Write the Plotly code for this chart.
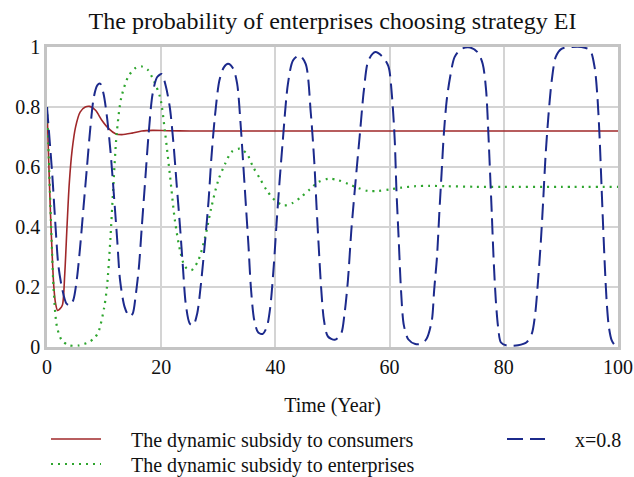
import plotly.graph_objects as go

# ---- data ----
t_cons = [0, 0.3, 0.6, 0.9, 1.2, 1.5, 1.85, 2.3, 2.7, 3.1, 3.5, 3.9, 4.4, 5.0, 5.8, 6.7, 7.5,
          8.5, 9.6, 10.8, 12.0, 13.1, 14.9, 16.6, 18.5, 21, 25, 30, 40, 60, 80, 100]
v_cons = [0.80, 0.62, 0.45, 0.31, 0.20, 0.145, 0.122, 0.128, 0.14, 0.24, 0.40, 0.545, 0.656,
          0.733, 0.783, 0.80, 0.802, 0.789, 0.756, 0.728, 0.711, 0.708, 0.713, 0.72, 0.722,
          0.721, 0.72, 0.72, 0.72, 0.72, 0.72, 0.72]

t_ent = [0, 0.4, 0.8, 1.2, 1.75, 2.6, 3.8, 5.5, 7.3, 8.3, 9.0, 10.0, 10.5, 11.1, 11.6, 12.2,
         13.0, 14.2, 15.5, 16.6, 17.6, 18.4, 19.8, 20.7, 21.5, 22.4, 23.3, 24.2, 25.3, 26.5,
         27.7, 28.8, 30.0, 31.2, 32.3, 33.8, 35.0, 36.1, 37.3, 38.5, 39.9, 41.5, 43.0, 44.5,
         46.0, 47.5, 49.3, 51.0, 52.7, 54.5, 56.2, 58.0, 60.0, 62.0, 64.5, 67.0, 70.0, 75.0,
         80.0, 90.0, 100.0]
v_ent = [0.80, 0.58, 0.36, 0.18, 0.067, 0.022, 0.006, 0.005, 0.016, 0.03, 0.05, 0.13, 0.20,
         0.36, 0.53, 0.71, 0.83, 0.90, 0.93, 0.935, 0.925, 0.90, 0.833, 0.711, 0.578, 0.422,
         0.322, 0.267, 0.256, 0.289, 0.367, 0.467, 0.556, 0.611, 0.65, 0.661, 0.644, 0.60,
         0.561, 0.522, 0.489, 0.472, 0.48, 0.50, 0.525, 0.55, 0.561, 0.556, 0.544, 0.53, 0.52,
         0.52, 0.525, 0.531, 0.536, 0.537, 0.536, 0.534, 0.534, 0.534, 0.534]

t_x08 = [0, 0.9, 1.5, 2.0, 2.7, 3.4, 4.0, 4.6, 5.2, 5.8, 6.4, 7.0, 7.6, 8.2, 8.8, 9.3, 9.9,
         10.5, 11.1, 11.7, 12.3, 12.8, 13.6, 14.4, 15.0, 15.5, 16.1, 16.6, 17.2, 17.8, 18.5,
         19.3, 20.1, 20.8, 21.5, 22.1, 22.7, 23.3, 23.8, 24.3, 25.0, 25.6, 26.3, 26.9, 27.7,
         28.3, 28.8, 29.4, 30.2, 31.0, 31.7, 32.6, 33.3, 33.9, 34.4, 34.85, 35.3, 35.7, 36.3,
         37.0, 37.8, 38.5, 39.1, 39.7, 40.2, 40.7, 41.3, 42.2, 43.1, 44.2, 45.3, 46.2, 46.8,
         47.2, 47.6, 48.0, 48.5, 49.2, 50.4, 51.5, 52.1, 52.7, 53.3, 54.0, 54.8, 55.5, 56.3,
         57.5, 58.8, 59.8, 60.4, 60.9, 61.2, 61.6, 62.0, 62.5, 63.3, 64.5, 65.6, 66.5, 67.4,
         67.8, 68.3, 68.7, 69.1, 69.5, 70.0, 70.6, 71.4, 72.6, 74.1, 75.4, 76.3, 76.9, 77.3,
         77.6, 77.9, 78.2, 78.6, 79.0, 79.5, 80.5, 82.5, 84.0, 84.9, 85.5, 86.0, 86.5, 86.9,
         87.3, 87.8, 88.4, 89.1, 90.1, 91.9, 93.6, 95.1, 95.9, 96.4, 96.8, 97.1, 97.4, 97.7,
         98.0, 98.4, 98.9, 99.5, 100.0]
v_x08 = [0.80, 0.58, 0.40, 0.27, 0.19, 0.145, 0.138, 0.156, 0.222, 0.333, 0.467, 0.60, 0.733,
         0.833, 0.872, 0.878, 0.844, 0.767, 0.656, 0.511, 0.356, 0.222, 0.133, 0.102, 0.111,
         0.167, 0.267, 0.40, 0.556, 0.711, 0.844, 0.90, 0.91, 0.87, 0.80, 0.689, 0.544, 0.40,
         0.267, 0.144, 0.078, 0.072, 0.111, 0.20, 0.356, 0.489, 0.633, 0.767, 0.889, 0.933,
         0.944, 0.928, 0.878, 0.744, 0.60, 0.467, 0.333, 0.20, 0.089, 0.048, 0.044, 0.067,
         0.133, 0.267, 0.411, 0.544, 0.689, 0.878, 0.956, 0.972, 0.944, 0.78, 0.62, 0.47,
         0.33, 0.20, 0.09, 0.035, 0.024, 0.044, 0.11, 0.222, 0.389, 0.544, 0.711, 0.856,
         0.956, 0.983, 0.967, 0.935, 0.84, 0.689, 0.522, 0.356, 0.189, 0.072, 0.025, 0.01,
         0.011, 0.028, 0.089, 0.189, 0.30, 0.444, 0.578, 0.711, 0.822, 0.90, 0.967, 0.994,
         0.998, 0.983, 0.944, 0.856, 0.711, 0.578, 0.444, 0.30, 0.156, 0.067, 0.015, 0.005,
         0.006, 0.016, 0.044, 0.111, 0.222, 0.356, 0.489, 0.633, 0.767, 0.889, 0.967, 0.994,
         1.0, 1.0, 0.989, 0.933, 0.833, 0.689, 0.544, 0.40, 0.267, 0.156, 0.067, 0.022, 0.005,
         0.002]

names = ["The dynamic subsidy to consumers", "The dynamic subsidy to enterprises", "x=0.8"]
x_ticks = [0, 20, 40, 60, 80, 100]
y_ticks = [0, 0.2, 0.4, 0.6, 0.8, 1]
y_tick_text = ["0", "0.2", "0.4", "0.6", "0.8", "1"]

FONT = "Liberation Serif, Times New Roman, serif"
GAP = "\u00a0" * 5
W, H = 634, 477

fig = go.Figure()
fig.add_trace(go.Scatter(x=t_cons, y=v_cons, mode="lines", name=GAP + names[0],
                         line=dict(color="#a0282a", width=1.6, shape="spline", smoothing=0.8),
                         legend="legend"))
fig.add_trace(go.Scatter(x=t_ent, y=v_ent, mode="lines", name=GAP + names[1],
                         line=dict(color="#2ea52e", width=2.2, dash="2px,5px", shape="spline",
                                   smoothing=0.8),
                         legend="legend2"))
fig.add_trace(go.Scatter(x=t_x08, y=v_x08, mode="lines", name=GAP + names[2],
                         line=dict(color="#1c2a8c", width=2, dash="16px,7px", shape="spline",
                                   smoothing=0.8),
                         legend="legend3"))

def leg(xpx, ypx, iw):
    return dict(font=dict(family=FONT, size=20, color="#111"), bgcolor="rgba(0,0,0,0)",
                itemwidth=iw, xref="container", yref="container",
                x=xpx / W, y=1 - ypx / H, xanchor="left", yanchor="middle")

fig.update_layout(
    width=W, height=H,
    margin=dict(l=47, r=16, t=47, b=130, autoexpand=False),
    paper_bgcolor="white", plot_bgcolor="white",
    font=dict(family=FONT, size=20, color="#111"),
    title=dict(text="The probability of enterprises choosing strategy EI",
               font=dict(family=FONT, size=24, color="#111"),
               x=0.5, xref="paper", xanchor="center",
               y=1 - 21 / H, yref="container", yanchor="middle"),
    showlegend=True,
    legend=leg(46, 439, 50),
    legend2=leg(46, 464, 50),
    legend3=leg(502, 439, 38),
    xaxis=dict(range=[0, 100], tickvals=x_ticks, showgrid=True, gridcolor="#d4d4d4",
               gridwidth=1.5, showline=True, linecolor="#c4c4c4", linewidth=2.5, mirror=True,
               zeroline=False, ticks="", tickfont=dict(family=FONT, size=20, color="#111"),
               title=dict(text="Time (Year)", font=dict(family=FONT, size=20, color="#111"),
                          standoff=22)),
    yaxis=dict(range=[0, 1], tickvals=y_ticks, ticktext=y_tick_text, showgrid=True,
               gridcolor="#d4d4d4", gridwidth=1.5, showline=True, linecolor="#c4c4c4",
               linewidth=2.5, mirror=True, zeroline=False, ticks="",
               tickfont=dict(family=FONT, size=20, color="#111")),
)

fig.write_html("out.html")
